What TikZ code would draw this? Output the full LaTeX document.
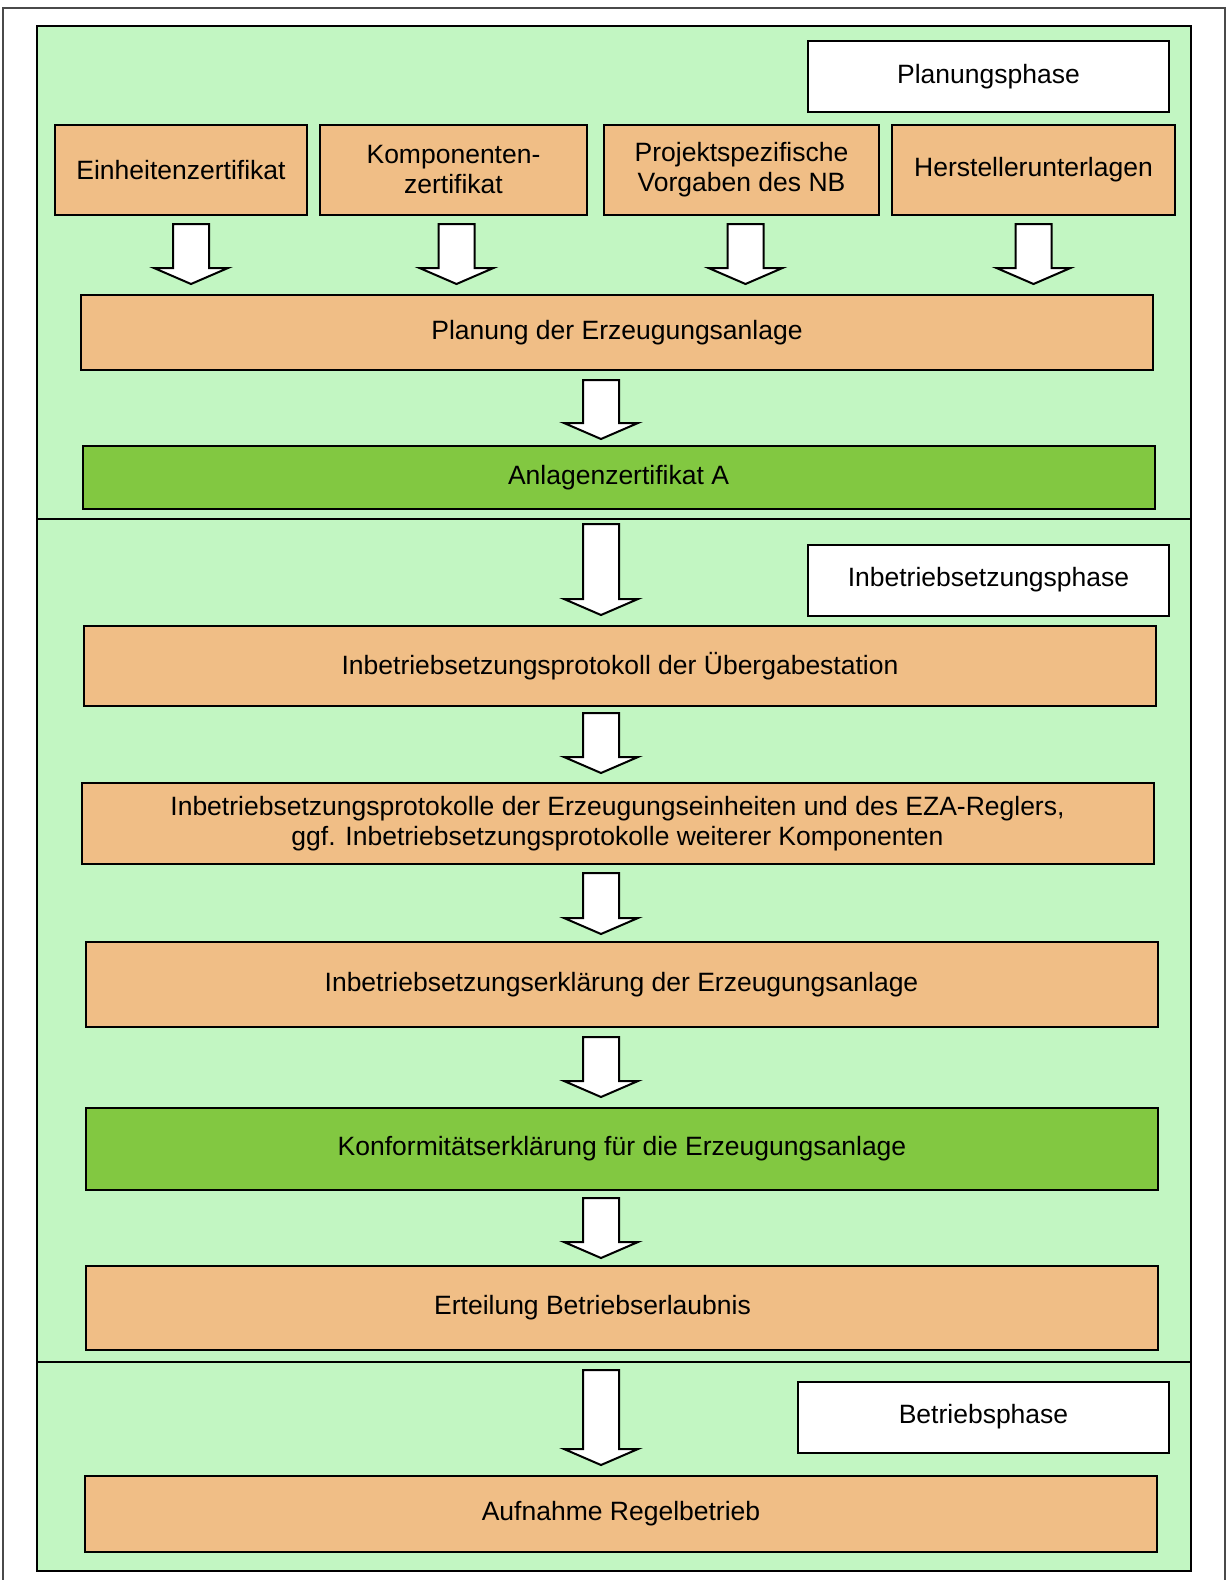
\documentclass[tikz,border=0pt]{standalone}
\usepackage{fontspec}
\setmainfont{Liberation Sans}
\usepackage{xcolor}
\usepackage{tikz}
\usetikzlibrary{positioning, calc}
\definecolor{phgreen}{HTML}{C2F6C2}
\definecolor{docorange}{HTML}{F0BE86}
\definecolor{certgreen}{HTML}{82C841}
\definecolor{framegray}{HTML}{4A4A4A}

\newcommand{\blockarrow}[2]{%
  \draw[arrowshape] let \p1=(#1), \p2=(#2) in
    (\x1-9pt,\y1) -- (\x1+9pt,\y1) -- (\x1+9pt,\y2+8pt) -- (\x1+18.5pt,\y2+8pt)
    -- (\x1,\y2) -- (\x1-18.5pt,\y2+8pt) -- (\x1-9pt,\y2+8pt) -- cycle;}

\begin{document}
\begin{tikzpicture}[
    x=0.5pt, y=-0.5pt,
    font=\fontsize{13.25pt}{15pt}\selectfont,
    box/.style={draw, line width=1pt, fill=docorange, align=center, inner sep=0pt},
    phasebox/.style={box, fill=white, minimum height=35.5pt},
    wide/.style={box, minimum width=536pt},
    cert/.style={wide, fill=certgreen},
    arrowshape/.style={draw, line width=1pt, fill=white, line join=miter},
  ]
    \useasboundingbox (0,0) rectangle (1227,1580);
    \draw[framegray, line width=1pt] (3,1580) -- (3,8) -- (1225,8) -- (1225,1580);
    \draw[line width=1pt, fill=phgreen] (37,26) rectangle (1191,1571);

    \coordinate (d1w) at (37,519);
    \coordinate (d1e) at (1191,519);
    \coordinate (d2w) at (37,1362);
    \coordinate (d2e) at (1191,1362);
    \coordinate (axis) at (601,0);
    \draw[line width=1pt] (d1w) -- (d1e);
    \draw[line width=1pt] (d2w) -- (d2e);

    \node[phasebox, minimum width=180.5pt] (plphase) at (988.5,76.5) {Planungsphase};
    \node[box, minimum width=126pt, minimum height=45pt] (e1) at (181,170) {Einheitenzertifikat};
    \node[box, minimum width=133.5pt, minimum height=45pt, right=5.5pt of e1] (e2) {Komponenten-\\zertifikat};
    \node[box, minimum width=137.5pt, minimum height=45pt, right=7.5pt of e2] (e3) {Projektspezifische\\Vorgaben des NB};
    \node[box, minimum width=141.5pt, minimum height=45pt, right=5.5pt of e3] (e4) {Herstellerunterlagen};
    \node[wide, minimum height=37.5pt] (plan) at (617,332.5) {Planung der Erzeugungsanlage};
    \node[cert, minimum height=31.5pt] (certA) at (618.5,477.5) {Anlagenzertifikat A};

    \node[phasebox, minimum width=180.5pt] (ibphase) at (988.5,580) {Inbetriebsetzungsphase};
    \node[wide, minimum height=40pt] (uebergabe) at (620,666) {Inbetriebsetzungsprotokoll der Übergabestation};
    \node[wide, minimum height=40.5pt] (protokolle) at (617.5,823.5) {Inbetriebsetzungsprotokolle der Erzeugungseinheiten und des EZA-Reglers,\\ggf. Inbetriebsetzungsprotokolle weiterer Komponenten};
    \node[wide, minimum height=42.5pt] (erklaerung) at (621.5,984.5) {Inbetriebsetzungserklärung der Erzeugungsanlage};
    \node[cert, minimum height=41pt] (konform) at (622,1149) {Konformitätserklärung für die Erzeugungsanlage};
    \node[wide, minimum height=42pt] (erteilung) at (621.5,1308) {\hspace*{-29pt}Erteilung Betriebserlaubnis};

    \node[phasebox, minimum width=185.5pt] (bphase) at (983.5,1417) {Betriebsphase};
    \node[wide, minimum height=38pt] (aufnahme) at (621,1514) {Aufnahme Regelbetrieb};

    \blockarrow{$(e1.south)+(5pt,-4pt)$}{$(plan.north)+(0,5pt)$}
    \blockarrow{$(e2.south)+(1.5pt,-4pt)$}{$(plan.north)+(0,5pt)$}
    \blockarrow{$(e3.south)+(2pt,-4pt)$}{$(plan.north)+(0,5pt)$}
    \blockarrow{$(e4.south)+(0,-4pt)$}{$(plan.north)+(0,5pt)$}
    \blockarrow{$(plan.south -| axis)+(0,-4.5pt)$}{$(certA.north)+(0,3pt)$}
    \blockarrow{$(d1w -| axis)+(0,-2.5pt)$}{$(uebergabe.north)+(0,5pt)$}
    \blockarrow{$(uebergabe.south -| axis)+(0,-3pt)$}{$(protokolle.north)+(0,4.5pt)$}
    \blockarrow{$(protokolle.south -| axis)+(0,-4pt)$}{$(erklaerung.north)+(0,3.5pt)$}
    \blockarrow{$(erklaerung.south -| axis)+(0,-4.5pt)$}{$(konform.north)+(0,5pt)$}
    \blockarrow{$(konform.south -| axis)+(0,-3.5pt)$}{$(erteilung.north)+(0,3.5pt)$}
    \blockarrow{$(d2w -| axis)+(0,-4pt)$}{$(aufnahme.north)+(0,5pt)$}
\end{tikzpicture}
\end{document}
